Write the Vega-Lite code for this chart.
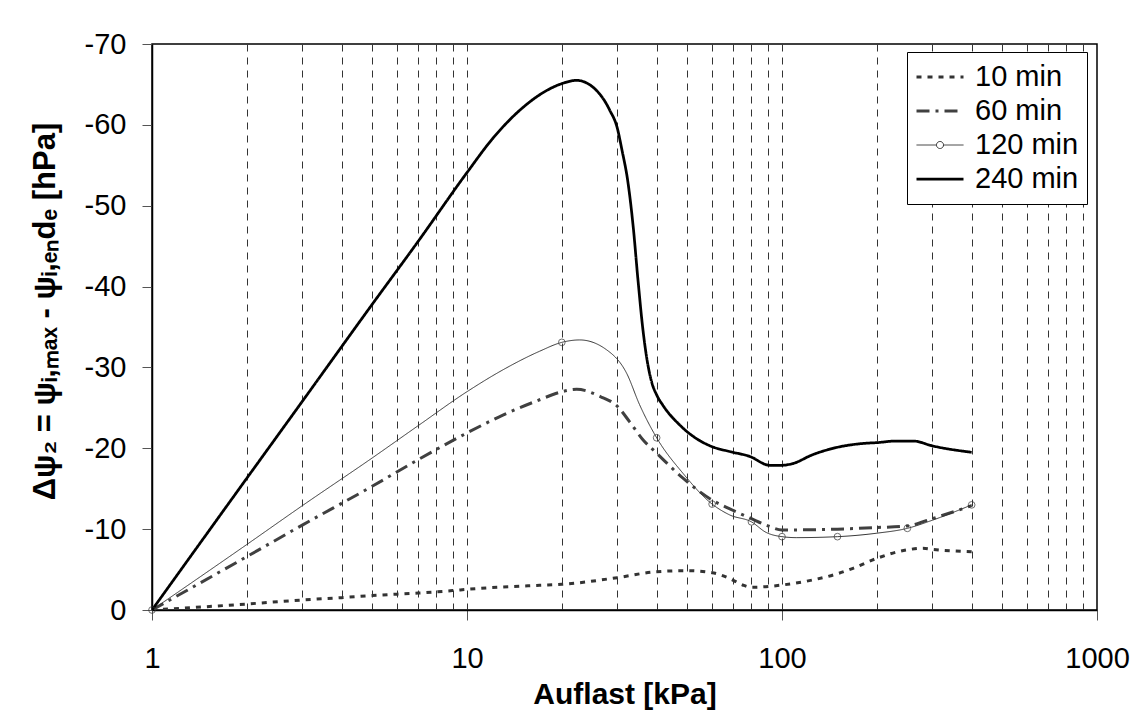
{
  "$schema": "https://vega.github.io/schema/vega-lite/v6.json",
  "width": 945,
  "height": 566,
  "autosize": {"type": "none"},
  "padding": {"left": 152, "top": 44, "right": 46, "bottom": 101},
  "background": "white",
  "datasets": {
    "curves": [
      {"series": "10 min", "auflast": 1, "dpsi": 0},
      {"series": "10 min", "auflast": 2, "dpsi": -0.74},
      {"series": "10 min", "auflast": 3, "dpsi": -1.24},
      {"series": "10 min", "auflast": 4, "dpsi": -1.53},
      {"series": "10 min", "auflast": 5, "dpsi": -1.78},
      {"series": "10 min", "auflast": 6, "dpsi": -1.96},
      {"series": "10 min", "auflast": 7, "dpsi": -2.1},
      {"series": "10 min", "auflast": 8, "dpsi": -2.25},
      {"series": "10 min", "auflast": 9, "dpsi": -2.4},
      {"series": "10 min", "auflast": 10, "dpsi": -2.56},
      {"series": "10 min", "auflast": 17, "dpsi": -3.05},
      {"series": "10 min", "auflast": 20, "dpsi": -3.17},
      {"series": "10 min", "auflast": 30, "dpsi": -4.0},
      {"series": "10 min", "auflast": 40, "dpsi": -4.74},
      {"series": "10 min", "auflast": 50, "dpsi": -4.86},
      {"series": "10 min", "auflast": 60, "dpsi": -4.62},
      {"series": "10 min", "auflast": 68, "dpsi": -3.92},
      {"series": "10 min", "auflast": 75, "dpsi": -3.09},
      {"series": "10 min", "auflast": 80, "dpsi": -2.81},
      {"series": "10 min", "auflast": 100, "dpsi": -3.09},
      {"series": "10 min", "auflast": 125, "dpsi": -3.71},
      {"series": "10 min", "auflast": 149, "dpsi": -4.45},
      {"series": "10 min", "auflast": 168, "dpsi": -5.15},
      {"series": "10 min", "auflast": 200, "dpsi": -6.39},
      {"series": "10 min", "auflast": 248, "dpsi": -7.42},
      {"series": "10 min", "auflast": 280, "dpsi": -7.63},
      {"series": "10 min", "auflast": 300, "dpsi": -7.5},
      {"series": "10 min", "auflast": 400, "dpsi": -7.2},

      {"series": "60 min", "auflast": 1, "dpsi": 0},
      {"series": "60 min", "auflast": 2, "dpsi": -6.6},
      {"series": "60 min", "auflast": 3, "dpsi": -10.5},
      {"series": "60 min", "auflast": 5, "dpsi": -15.3},
      {"series": "60 min", "auflast": 7, "dpsi": -18.6},
      {"series": "60 min", "auflast": 10, "dpsi": -21.9},
      {"series": "60 min", "auflast": 13, "dpsi": -24.1},
      {"series": "60 min", "auflast": 17, "dpsi": -26.0},
      {"series": "60 min", "auflast": 20, "dpsi": -27.0},
      {"series": "60 min", "auflast": 22.3, "dpsi": -27.3},
      {"series": "60 min", "auflast": 26.5, "dpsi": -26.4},
      {"series": "60 min", "auflast": 30, "dpsi": -25.2},
      {"series": "60 min", "auflast": 32.8, "dpsi": -23.3},
      {"series": "60 min", "auflast": 36.3, "dpsi": -21.0},
      {"series": "60 min", "auflast": 40, "dpsi": -19.4},
      {"series": "60 min", "auflast": 48.5, "dpsi": -16.3},
      {"series": "60 min", "auflast": 60, "dpsi": -13.6},
      {"series": "60 min", "auflast": 68.3, "dpsi": -12.5},
      {"series": "60 min", "auflast": 80, "dpsi": -11.3},
      {"series": "60 min", "auflast": 89, "dpsi": -10.5},
      {"series": "60 min", "auflast": 100, "dpsi": -9.9},
      {"series": "60 min", "auflast": 150, "dpsi": -10.0},
      {"series": "60 min", "auflast": 200, "dpsi": -10.2},
      {"series": "60 min", "auflast": 250, "dpsi": -10.4},
      {"series": "60 min", "auflast": 300, "dpsi": -11.3},
      {"series": "60 min", "auflast": 400, "dpsi": -12.9},

      {"series": "120 min", "auflast": 1, "dpsi": 0},
      {"series": "120 min", "auflast": 2, "dpsi": -8.1},
      {"series": "120 min", "auflast": 3, "dpsi": -12.9},
      {"series": "120 min", "auflast": 5, "dpsi": -18.8},
      {"series": "120 min", "auflast": 7, "dpsi": -22.8},
      {"series": "120 min", "auflast": 10, "dpsi": -27.0},
      {"series": "120 min", "auflast": 13, "dpsi": -29.7},
      {"series": "120 min", "auflast": 17, "dpsi": -32.0},
      {"series": "120 min", "auflast": 20, "dpsi": -33.1},
      {"series": "120 min", "auflast": 22.8, "dpsi": -33.4},
      {"series": "120 min", "auflast": 27.7, "dpsi": -32.2},
      {"series": "120 min", "auflast": 32.1, "dpsi": -29.3},
      {"series": "120 min", "auflast": 35.3, "dpsi": -25.4},
      {"series": "120 min", "auflast": 40, "dpsi": -21.3},
      {"series": "120 min", "auflast": 48.5, "dpsi": -16.9},
      {"series": "120 min", "auflast": 60, "dpsi": -13.1},
      {"series": "120 min", "auflast": 68.3, "dpsi": -11.75},
      {"series": "120 min", "auflast": 80, "dpsi": -10.9},
      {"series": "120 min", "auflast": 89, "dpsi": -9.6},
      {"series": "120 min", "auflast": 100, "dpsi": -9.07},
      {"series": "120 min", "auflast": 111, "dpsi": -8.95},
      {"series": "120 min", "auflast": 150, "dpsi": -9.07},
      {"series": "120 min", "auflast": 200, "dpsi": -9.5},
      {"series": "120 min", "auflast": 250, "dpsi": -10.1},
      {"series": "120 min", "auflast": 300, "dpsi": -11.1},
      {"series": "120 min", "auflast": 400, "dpsi": -13.0},

      {"series": "240 min", "auflast": 1, "dpsi": 0},
      {"series": "240 min", "auflast": 2, "dpsi": -16.3},
      {"series": "240 min", "auflast": 3, "dpsi": -25.8},
      {"series": "240 min", "auflast": 5, "dpsi": -37.8},
      {"series": "240 min", "auflast": 7, "dpsi": -45.6},
      {"series": "240 min", "auflast": 10, "dpsi": -54.1},
      {"series": "240 min", "auflast": 12, "dpsi": -58.2},
      {"series": "240 min", "auflast": 15, "dpsi": -62.1},
      {"series": "240 min", "auflast": 18, "dpsi": -64.3},
      {"series": "240 min", "auflast": 20, "dpsi": -65.1},
      {"series": "240 min", "auflast": 22.3, "dpsi": -65.5},
      {"series": "240 min", "auflast": 25.7, "dpsi": -64.3},
      {"series": "240 min", "auflast": 28.4, "dpsi": -61.8},
      {"series": "240 min", "auflast": 30, "dpsi": -59.6},
      {"series": "240 min", "auflast": 31, "dpsi": -57.0},
      {"series": "240 min", "auflast": 32.4, "dpsi": -53.0},
      {"series": "240 min", "auflast": 33.7, "dpsi": -47.4},
      {"series": "240 min", "auflast": 34.9, "dpsi": -40.8},
      {"series": "240 min", "auflast": 36.2, "dpsi": -34.6},
      {"series": "240 min", "auflast": 37.3, "dpsi": -30.9},
      {"series": "240 min", "auflast": 38.5, "dpsi": -28.3},
      {"series": "240 min", "auflast": 40, "dpsi": -26.6},
      {"series": "240 min", "auflast": 41.9, "dpsi": -25.3},
      {"series": "240 min", "auflast": 47.3, "dpsi": -22.9},
      {"series": "240 min", "auflast": 53.5, "dpsi": -21.2},
      {"series": "240 min", "auflast": 60, "dpsi": -20.2},
      {"series": "240 min", "auflast": 68.2, "dpsi": -19.6},
      {"series": "240 min", "auflast": 78.9, "dpsi": -19.0},
      {"series": "240 min", "auflast": 91.4, "dpsi": -17.9},
      {"series": "240 min", "auflast": 100, "dpsi": -17.9},
      {"series": "240 min", "auflast": 108, "dpsi": -18.1},
      {"series": "240 min", "auflast": 125, "dpsi": -19.2},
      {"series": "240 min", "auflast": 149, "dpsi": -20.1},
      {"series": "240 min", "auflast": 181, "dpsi": -20.6},
      {"series": "240 min", "auflast": 200, "dpsi": -20.7},
      {"series": "240 min", "auflast": 231, "dpsi": -20.9},
      {"series": "240 min", "auflast": 261, "dpsi": -20.9},
      {"series": "240 min", "auflast": 300, "dpsi": -20.3},
      {"series": "240 min", "auflast": 400, "dpsi": -19.5}
    ],
    "markers": [
      {"series": "120 min", "auflast": 1, "dpsi": 0},
      {"series": "120 min", "auflast": 20, "dpsi": -33.1},
      {"series": "120 min", "auflast": 40, "dpsi": -21.3},
      {"series": "120 min", "auflast": 60, "dpsi": -13.1},
      {"series": "120 min", "auflast": 80, "dpsi": -10.9},
      {"series": "120 min", "auflast": 100, "dpsi": -9.07},
      {"series": "120 min", "auflast": 150, "dpsi": -9.07},
      {"series": "120 min", "auflast": 250, "dpsi": -10.1},
      {"series": "120 min", "auflast": 400, "dpsi": -13.0}
    ]
  },
  "layer": [
    {
      "data": {"name": "curves"},
      "mark": {"type": "line", "interpolate": "monotone", "clip": true},
      "encoding": {
        "x": {
          "field": "auflast",
          "type": "quantitative",
          "scale": {"type": "log", "domain": [1, 1000]},
          "title": "Auflast [kPa]",
          "axis": {
            "values": [1, 2, 3, 4, 5, 6, 7, 8, 9, 10, 20, 30, 40, 50, 60, 70, 80, 90, 100, 200, 300, 400, 500, 600, 700, 800, 900, 1000],
            "labelExpr": "indexof([1, 10, 100, 1000], datum.value) >= 0 ? toString(datum.value) : ''",
            "labelOverlap": false,
            "labelFlush": false,
            "grid": true,
            "gridDash": [7, 6],
            "gridColor": "#333333",
            "gridWidth": 1,
            "gridOpacity": {"condition": {"test": "datum.value == 1 || datum.value == 1000", "value": 0}, "value": 1},
            "tickOpacity": {"condition": {"test": "indexof([1, 10, 100, 1000], datum.value) >= 0", "value": 1}, "value": 0},
            "tickSize": 10,
            "tickColor": "#555555",
            "labelPadding": 24,
            "titlePadding": 6
          }
        },
        "y": {
          "field": "dpsi",
          "type": "quantitative",
          "scale": {"domain": [-70, 0], "reverse": true},
          "title": "Δψ₂ = ψᵢ,ₘₐₓ - ψᵢ,ₑₙdₑ [hPa]",
          "axis": {
            "values": [-70, -60, -50, -40, -30, -20, -10, 0],
            "labelExpr": "toString(datum.value)",
            "grid": false,
            "tickSize": 10,
            "tickColor": "#555555",
            "labelPadding": 16,
            "titlePadding": 23,
            "titleFontSize": 31,
            "titleY": 267
          }
        },
        "color": {
          "field": "series",
          "type": "nominal",
          "scale": {"domain": ["10 min", "60 min", "120 min", "240 min"], "range": ["#333333", "#404040", "#333333", "#000000"]},
          "legend": {
            "title": null,
            "encode": {
              "symbols": {
                "update": {
                  "shape": {"signal": "datum.value == '120 min' ? 'M-1,0H-0.15M0.15,0H1M0.15,0A0.15,0.15,0,1,1,-0.15,0A0.15,0.15,0,1,1,0.15,0' : 'stroke'"},
                  "fill": {"value": "transparent"}
                }
              }
            }
          }
        },
        "strokeDash": {
          "field": "series",
          "type": "nominal",
          "scale": {"domain": ["10 min", "60 min", "120 min", "240 min"], "range": [[5, 6], [13, 6, 3, 6], [1, 0], [1, 0]]},
          "legend": {"title": null}
        },
        "strokeWidth": {
          "field": "series",
          "type": "nominal",
          "scale": {"type": "ordinal", "domain": ["10 min", "60 min", "120 min", "240 min"], "range": [3, 3, 1, 2.75]},
          "legend": {"title": null}
        }
      }
    },
    {
      "data": {"name": "markers"},
      "mark": {"type": "point", "shape": "circle", "filled": false, "size": 45, "color": "#333333", "strokeWidth": 1, "clip": false},
      "encoding": {
        "x": {"field": "auflast", "type": "quantitative"},
        "y": {"field": "dpsi", "type": "quantitative"}
      }
    }
  ],
  "config": {
    "font": "Liberation Sans",
    "view": {"stroke": "#000000", "strokeWidth": 1.5},
    "axis": {
      "domainColor": "#000000",
      "domainWidth": 1.5,
      "labelFont": "Liberation Sans",
      "labelFontSize": 29,
      "labelColor": "#000000",
      "titleFont": "Liberation Sans",
      "titleFontSize": 30,
      "titleFontWeight": "bold",
      "titleColor": "#000000"
    },
    "legend": {
      "orient": "none",
      "legendX": 755,
      "legendY": 8,
      "strokeColor": "#000000",
      "strokeWidth": 1,
      "fillColor": "#ffffff",
      "padding": 8,
      "symbolType": "stroke",
      "symbolSize": 2209,
      "labelFont": "Liberation Sans",
      "labelFontSize": 29,
      "labelColor": "#000000",
      "labelOffset": 10,
      "rowPadding": 0,
      "clipHeight": 34,
      "labelLimit": 300
    }
  }
}
